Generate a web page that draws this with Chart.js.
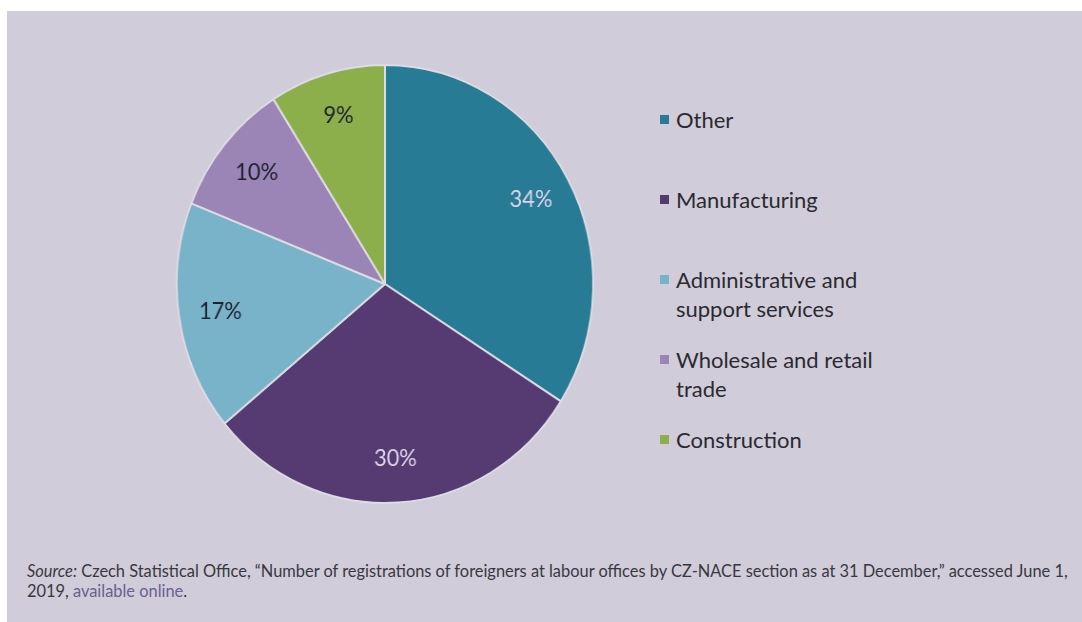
<!DOCTYPE html>
<html>
<head>
<meta charset="utf-8">
<script src="https://cdn.jsdelivr.net/npm/chart.js@4"></script>
<style>
    html, body {
        margin: 0;
        padding: 0;
        background: #ffffff;
        width: 1082px;
        height: 622px;
        overflow: hidden;
        font-family: Lato, "Open Sans", sans-serif;
    }
    #panel {
        position: absolute;
        left: 7px;
        top: 11px;
        right: 0;
        bottom: 0;
        background: #d0ccd9;
    }
    /* the pie is drawn a little narrower than it is tall */
    #chartBox {
        position: absolute;
        left: 171px;
        top: 59px;
        width: 450px;
        height: 450px;
        transform: scaleX(0.951);
        transform-origin: 0 0;
    }
    #legend {
        position: absolute;
        left: 660px;
        top: 105px;
        margin: 0;
        padding: 0;
        list-style: none;
    }
    #legend li {
        position: relative;
        height: 80px;
        padding-left: 16px;
        font-size: 22px;
        line-height: 29px;
        color: #2a2a30;
        width: 260px;
    }
    #legend li span.box {
        position: absolute;
        left: 0;
        top: 10px;
        width: 9px;
        height: 9px;
    }
    #source {
        position: absolute;
        left: 27px;
        top: 561px;
        width: 1050px;
        font-size: 16.4px;
        line-height: 20px;
        color: #383840;
    }
    #source a {
        color: #6a5f8e;
        text-decoration: none;
    }
</style>
</head>
<body>
<div id="panel"></div>
<div id="chartBox"><canvas id="sectorChart" width="450" height="450"></canvas></div>
<ul id="legend"></ul>
<div id="source"><i>Source:</i> Czech Statistical Office, “Number of registrations of foreigners at labour offices by CZ-NACE section as at 31 December,” accessed June 1, 2019, <a href="#">available online</a>.</div>

<script>
const sectorLabels = ['Other', 'Manufacturing', 'Administrative and support services', 'Wholesale and retail trade', 'Construction'];
const legendLines = [['Other'], ['Manufacturing'], ['Administrative and', 'support services'], ['Wholesale and retail', 'trade'], ['Construction']];
const sectorShares = [34, 30, 17, 10, 9];
const sliceColors = ['#287b95', '#563a72', '#79b3ca', '#9b84b6', '#8caf4b'];
const valueColors = ['#dcd6e8', '#dcd6e8', '#1e2230', '#1e2230', '#1e2230'];

const chartCanvas = document.getElementById('sectorChart');
const legendList = document.getElementById('legend');

// percentage text inside each slice
const sliceValueLabels = {
    id: 'sliceValueLabels',
    afterDatasetsDraw(chart) {
        const ctx = chart.ctx;
        const meta = chart.getDatasetMeta(0);
        ctx.save();
        ctx.font = '23px Lato, "Open Sans", sans-serif';
        ctx.textAlign = 'center';
        ctx.textBaseline = 'middle';
        meta.data.forEach((arc, i) => {
            const props = arc.getProps(['x', 'y', 'startAngle', 'endAngle', 'outerRadius']);
            const mid = (props.startAngle + props.endAngle) / 2;
            const r = props.outerRadius * 0.8;
            ctx.fillStyle = valueColors[i];
            ctx.fillText(sectorShares[i] + '%', props.x + Math.cos(mid) * r, props.y + Math.sin(mid) * r);
        });
        ctx.restore();
    }
};

new Chart(chartCanvas.getContext('2d'), {
    type: 'pie',
    data: {
        labels: sectorLabels,
        datasets: [{
            data: sectorShares,
            backgroundColor: sliceColors,
            borderColor: '#dddbe4',
            borderWidth: 2
        }]
    },
    options: {
        responsive: false,
        devicePixelRatio: 1,
        animation: false,
        layout: { padding: 5 },
        plugins: {
            legend: { display: false },
            tooltip: { enabled: false }
        }
    },
    plugins: [sliceValueLabels]
});

legendLines.forEach((lines, i) => {
    const item = document.createElement('li');
    const box = document.createElement('span');
    box.className = 'box';
    box.style.background = sliceColors[i];
    item.appendChild(box);
    item.appendChild(document.createTextNode(lines[0]));
    for (let k = 1; k < lines.length; k++) {
        item.appendChild(document.createElement('br'));
        item.appendChild(document.createTextNode(lines[k]));
    }
    legendList.appendChild(item);
});
</script>
</body>
</html>
